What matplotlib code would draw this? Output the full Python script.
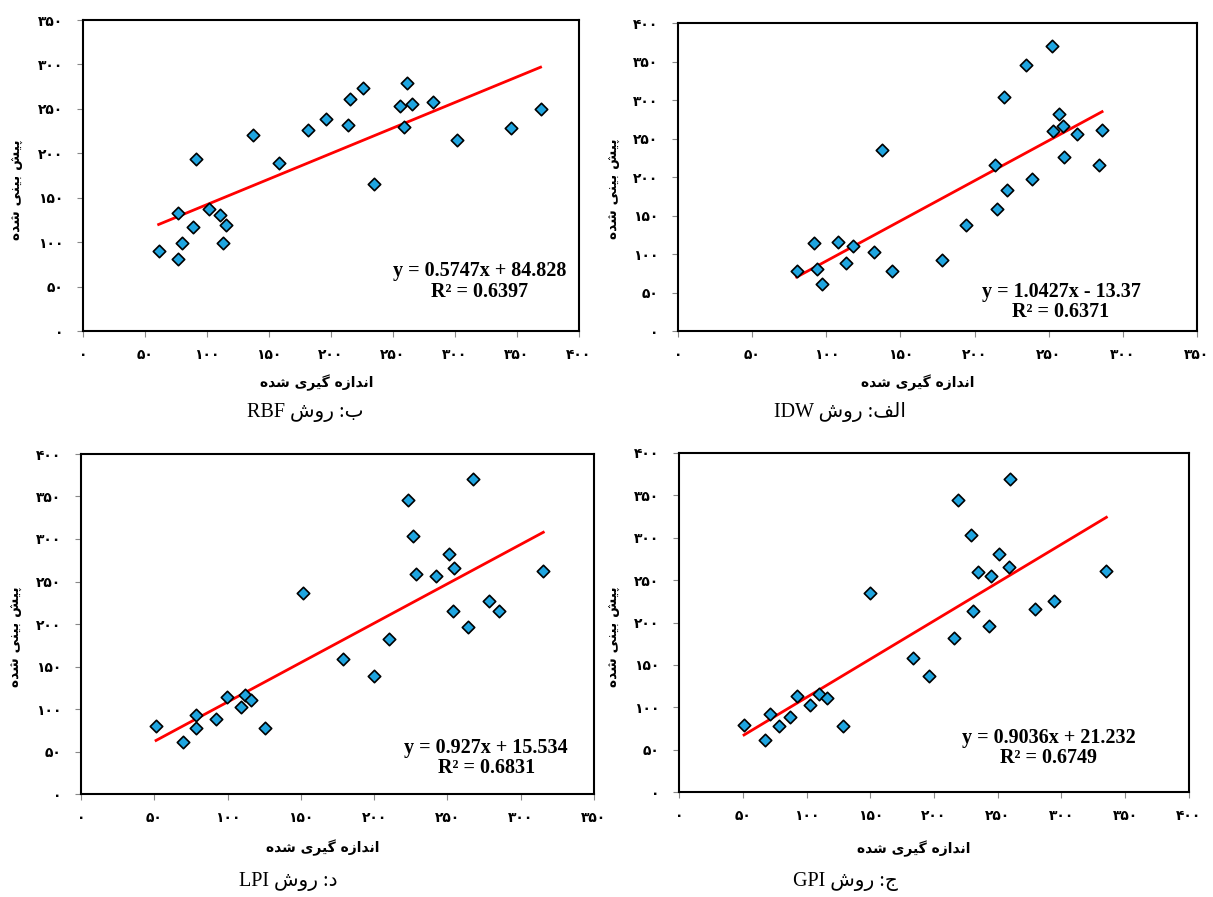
import numpy as np
import matplotlib.pyplot as plt
from matplotlib.ticker import MultipleLocator, FuncFormatter

# measured (x) vs predicted (y) for each interpolation method
rbf_x = [61, 77, 77, 80, 89, 91.5, 102, 110.5, 113, 115.6, 137, 158, 181.5, 196, 214, 215, 226, 235, 255.7, 259, 261, 265, 282, 302, 345, 369]
rbf_y = [90, 81, 132.5, 98.5, 117, 194, 137, 131, 98.5, 119.4, 221, 189, 226, 239, 232, 261, 273, 165, 253, 230, 279, 256, 257.6, 215, 228, 250]

idw_x = [80, 91.8, 93.6, 97.3, 108, 113, 118, 132, 137.7, 144, 178, 194, 214, 215, 219.7, 221.8, 235, 238.5, 252, 253, 256.7, 259.6, 260, 269, 284, 286]
idw_y = [78, 113.7, 80, 61.4, 116, 88.6, 110.7, 103, 235.7, 78, 91.7, 138, 215, 158, 304, 182.5, 345.5, 196.8, 370, 259.5, 282, 266, 226.6, 256, 216, 261.6]

lpi_x = [51.2, 69.3, 78.2, 78.5, 92.4, 99.7, 109, 111.8, 116, 125.7, 151.7, 179, 199.7, 210.4, 223.3, 226.4, 228.5, 242, 251, 254.8, 254, 264.2, 267.4, 278.7, 285, 315.4]
lpi_y = [79.7, 61, 92.7, 77.7, 88.8, 113.6, 102, 116.4, 110.8, 77.7, 236.3, 159, 138.5, 181.9, 345.6, 303, 259, 256.4, 282, 265.5, 215, 196.4, 370, 227, 215.8, 262]

gpi_x = [51, 67.8, 71.5, 78.6, 87.2, 92.4, 102.8, 109.9, 115.7, 129, 150, 183.9, 196.2, 215.8, 219.2, 229.3, 230.5, 234.2, 242.8, 244.4, 251, 258.8, 259.7, 279, 294, 335.2]
gpi_y = [79.4, 61, 91.6, 77.8, 88.8, 113.2, 102.2, 115.1, 110.4, 77.4, 235, 157.6, 137, 181.5, 345, 303, 213.8, 259, 196, 255.4, 281.3, 266, 369.7, 215.7, 225.5, 261]

# trendline coefficients shown on the chart
slopes = [0.5747, 1.0427, 0.927, 0.9036]
intercepts = [84.828, -13.37, 15.534, 21.232]
r2s = ["0.6397", "0.6371", "0.6831", "0.6749"]
methods = ["RBF", "IDW", "LPI", "GPI"]
x_max = [400, 350, 350, 400]
y_max = [350, 400, 400, 400]

# Persian text, pre-shaped into presentation forms, in visual (left-to-right) order
xlab = "\uFEE9\uFEAA\uFEB7 \uFBFC\uFEAE\uFBFF\uFB94 \uFEE9\uFEAF\uFE8D\uFEAA\uFEE7\uFE8D"
ylab = "\uFEE9\uFEAA\uFEB7 \uFBFD\uFEE8\uFBFF\uFE91 \uFEB6\uFBFF\uFB58"
ravesh = "\uFEB5\uFEED\uFEAD"
prefixes = ["\uFE8F", "\uFED2\uFEDF\uFE8D", "\uFEA9", "\uFE9D"]

fa_digits = str.maketrans("0123456789", "\u06F0\u06F1\u06F2\u06F3\u06F4\u06F5\u06F6\u06F7\u06F8\u06F9")
def fa(v, pos):
    return str(int(round(v))).translate(fa_digits)

W, H = 1213, 897
# pixel layout: left, right, top, bottom of plot area
rects = [(83, 579, 20, 331), (678, 1197, 23, 331), (81, 594, 454, 794), (679, 1189, 453, 792)]
eq_pos = [(0.80, 0.16), (0.738, 0.094), (0.79, 0.106), (0.725, 0.13)]
xlab_pos = [(317, 383), (918, 383), (323, 848), (914, 849)]
ylab_pos = [(17, 190), (614, 189), (16, 637), (614, 637)]
cap_pos = [(305, 412), (840, 412), (288, 881), (845, 881)]

xs = [rbf_x, idw_x, lpi_x, gpi_x]
ys = [rbf_y, idw_y, lpi_y, gpi_y]

fig = plt.figure(figsize=(W / 100, H / 100), dpi=100)

for i in range(4):
    l, r, t, b = rects[i]
    ax = fig.add_axes([l / W, 1 - b / H, (r - l) / W, (b - t) / H])
    x = np.array(xs[i])
    y = np.array(ys[i])
    xx = np.array([x.min(), x.max()])
    ax.plot(xx, slopes[i] * xx + intercepts[i], color="#FF0000", lw=2.0, zorder=2)
    ax.scatter(x, y, marker="D", s=40, facecolor="#1FA5E0", edgecolor="black", linewidth=1.2, zorder=3)
    ax.set_xlim(0, x_max[i])
    ax.set_ylim(0, y_max[i])
    ax.xaxis.set_major_locator(MultipleLocator(50))
    ax.yaxis.set_major_locator(MultipleLocator(50))
    ax.xaxis.set_major_formatter(FuncFormatter(fa))
    ax.yaxis.set_major_formatter(FuncFormatter(fa))
    ax.tick_params(direction="out", length=4, width=0.8, color="#888888", labelsize=10, pad=8)
    ax.tick_params(axis="y", pad=10)
    for lab in ax.get_xticklabels() + ax.get_yticklabels():
        lab.set_fontweight("bold")
    for sp in ax.spines.values():
        sp.set_linewidth(1.5)
        sp.set_color("black")
    sign = "+" if intercepts[i] >= 0 else "-"
    eq = "y = %sx %s %s\nR\u00b2 = %s" % (slopes[i], sign, abs(intercepts[i]), r2s[i])
    ax.text(eq_pos[i][0], eq_pos[i][1], eq, transform=ax.transAxes, ha="center", va="center",
            fontsize=14.5, fontweight="bold", family="Liberation Serif", linespacing=1.05)
    fig.text(xlab_pos[i][0] / W, 1 - xlab_pos[i][1] / H, xlab, ha="center", va="center",
             fontsize=10, fontweight="bold", family="DejaVu Sans")
    fig.text(ylab_pos[i][0] / W, 1 - ylab_pos[i][1] / H, ylab, ha="center", va="center",
             rotation=90, fontsize=10, fontweight="bold", family="DejaVu Sans")
    cap = methods[i] + " " + ravesh + " :" + prefixes[i]
    fig.text(cap_pos[i][0] / W, 1 - cap_pos[i][1] / H, cap, ha="center", va="center",
             fontsize=14.5, family=["Liberation Serif", "DejaVu Sans"])

fig.savefig("out.png", dpi=100)
